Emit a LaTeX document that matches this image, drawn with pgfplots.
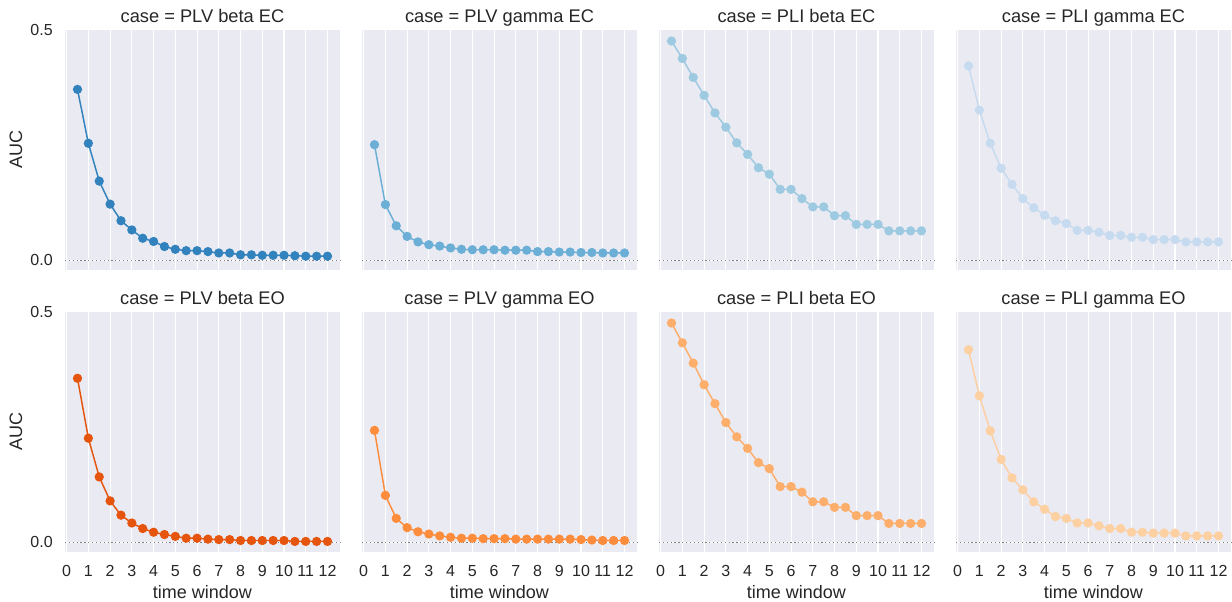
\documentclass[border=0pt]{standalone}
\usepackage{fontspec}
\setmainfont{Liberation Sans}
\usepackage{pgfplots}
\usepackage{pgfplotstable}
\pgfplotsset{compat=1.18}

\definecolor{bgcol}{RGB}{234,234,242}
\definecolor{txt}{RGB}{38,38,38}
\definecolor{zeroline}{RGB}{128,128,128}
\definecolor{b1}{RGB}{49,130,189}
\definecolor{b2}{RGB}{107,174,214}
\definecolor{b3}{RGB}{158,202,225}
\definecolor{b4}{RGB}{198,219,239}
\definecolor{o1}{RGB}{230,85,13}
\definecolor{o2}{RGB}{253,141,60}
\definecolor{o3}{RGB}{253,174,107}
\definecolor{o4}{RGB}{253,208,162}

% AUC per time window, one column per case
\pgfplotstableread{
t    pvbec pvgec pibec pigec pvbeo pvgeo pibeo pigeo
0.5  0.371 0.251 0.476 0.422 0.356 0.243 0.476 0.418
1.0  0.254 0.121 0.438 0.326 0.226 0.102 0.433 0.318
1.5  0.172 0.075 0.397 0.254 0.142 0.052 0.389 0.242
2.0  0.122 0.052 0.358 0.200 0.090 0.032 0.342 0.180
2.5  0.086 0.040 0.320 0.165 0.059 0.023 0.301 0.140
3.0  0.066 0.034 0.289 0.134 0.042 0.018 0.260 0.114
3.5  0.048 0.031 0.255 0.114 0.030 0.014 0.229 0.088
4.0  0.041 0.027 0.230 0.098 0.022 0.011 0.204 0.072
4.5  0.030 0.024 0.201 0.086 0.017 0.009 0.173 0.056
5.0  0.024 0.023 0.187 0.080 0.013 0.009 0.160 0.052
5.5  0.021 0.023 0.154 0.065 0.009 0.008 0.121 0.042
6.0  0.021 0.023 0.154 0.065 0.009 0.008 0.121 0.042
6.5  0.019 0.022 0.134 0.061 0.007 0.008 0.109 0.036
7.0  0.016 0.022 0.116 0.054 0.006 0.007 0.088 0.030
7.5  0.016 0.022 0.116 0.054 0.006 0.007 0.088 0.030
8.0  0.012 0.019 0.097 0.050 0.004 0.007 0.076 0.022
8.5  0.012 0.019 0.097 0.050 0.004 0.007 0.076 0.022
9.0  0.011 0.018 0.078 0.045 0.004 0.007 0.058 0.020
9.5  0.011 0.018 0.078 0.045 0.004 0.007 0.058 0.020
10.0 0.011 0.017 0.078 0.045 0.004 0.006 0.058 0.020
10.5 0.010 0.017 0.064 0.040 0.002 0.005 0.041 0.014
11.0 0.009 0.016 0.064 0.040 0.002 0.004 0.041 0.014
11.5 0.009 0.016 0.064 0.040 0.002 0.004 0.041 0.014
12.0 0.009 0.016 0.064 0.040 0.002 0.004 0.041 0.014
}\auc

\pgfplotsset{
  facet/.style={
    scale only axis, width=206.25pt, height=180.75pt,
    anchor=south west,
    xmin=-0.075, xmax=12.575, ymin=-0.022, ymax=0.501,
    xtick={0,...,12}, ytick={0,0.5},
    /pgf/number format/assume math mode=true,
    axis background/.style={fill=bgcol},
    grid=major, major grid style={white, line width=0.8pt},
    axis line style={draw=none}, tick style={draw=none},
    major tick length=0pt,
    every axis title shift=0pt,
    title style={at={(axis description cs:0.5,1.029)}, anchor=base,
      font=\fontsize{13.7}{16}\selectfont, text=txt},
    ticklabel style={font=\fontsize{12}{14}\selectfont, text=txt},
    xticklabel style={anchor=base, yshift=-18.15pt},
    yticklabel style={anchor=east, inner sep=0pt, xshift=-9pt},
    xlabel style={at={(axis description cs:0.5,0)}, anchor=base, yshift=-34.35pt,
      font=\fontsize{13.5}{16}\selectfont, text=txt},
    ylabel style={at={(axis description cs:-0.178,0.5)}, anchor=center,
      font=\fontsize{13.5}{16}\selectfont, text=txt},
    clip=false,
  },
  top/.style={xticklabels={}},
  bottom/.style={xlabel={time window}},
  left/.style={yticklabels={0.0,0.5}, ylabel={AUC}},
  inner/.style={yticklabels={}},
  ser/.style={line width=1.1pt, #1, mark=*, mark size=2.9pt, mark options={solid, draw=#1, fill=#1}},
  zero/.style={zeroline, line width=0.9pt, dash pattern=on 0.9pt off 2pt},
}

\newcommand{\zero}{\addplot [zero] coordinates {(-0.075,0) (12.575,0)};}

\begin{document}
\begin{tikzpicture}

\begin{axis}[facet, top, left, at={(48.75pt,248.625pt)}, title={case = PLV beta EC}]
\zero
\addplot [ser=b1] table [x=t, y=pvbec] {\auc};
\end{axis}
\begin{axis}[facet, top, inner, at={(271.5pt,248.625pt)}, title={case = PLV gamma EC}]
\zero
\addplot [ser=b2] table [x=t, y=pvgec] {\auc};
\end{axis}
\begin{axis}[facet, top, inner, at={(494.25pt,248.625pt)}, title={case = PLI beta EC}]
\zero
\addplot [ser=b3] table [x=t, y=pibec] {\auc};
\end{axis}
\begin{axis}[facet, top, inner, at={(717pt,248.625pt)}, title={case = PLI gamma EC}]
\zero
\addplot [ser=b4] table [x=t, y=pigec] {\auc};
\end{axis}

\begin{axis}[facet, bottom, left, at={(48.75pt,37.125pt)}, title={case = PLV beta EO}]
\zero
\addplot [ser=o1] table [x=t, y=pvbeo] {\auc};
\end{axis}
\begin{axis}[facet, bottom, inner, at={(271.5pt,37.125pt)}, title={case = PLV gamma EO}]
\zero
\addplot [ser=o2] table [x=t, y=pvgeo] {\auc};
\end{axis}
\begin{axis}[facet, bottom, inner, at={(494.25pt,37.125pt)}, title={case = PLI beta EO}]
\zero
\addplot [ser=o3] table [x=t, y=pibeo] {\auc};
\end{axis}
\begin{axis}[facet, bottom, inner, at={(717pt,37.125pt)}, title={case = PLI gamma EO}]
\zero
\addplot [ser=o4] table [x=t, y=pigeo] {\auc};
\end{axis}

\pgfresetboundingbox
\useasboundingbox (0,0) rectangle (924pt,451.5pt);
\end{tikzpicture}
\end{document}
